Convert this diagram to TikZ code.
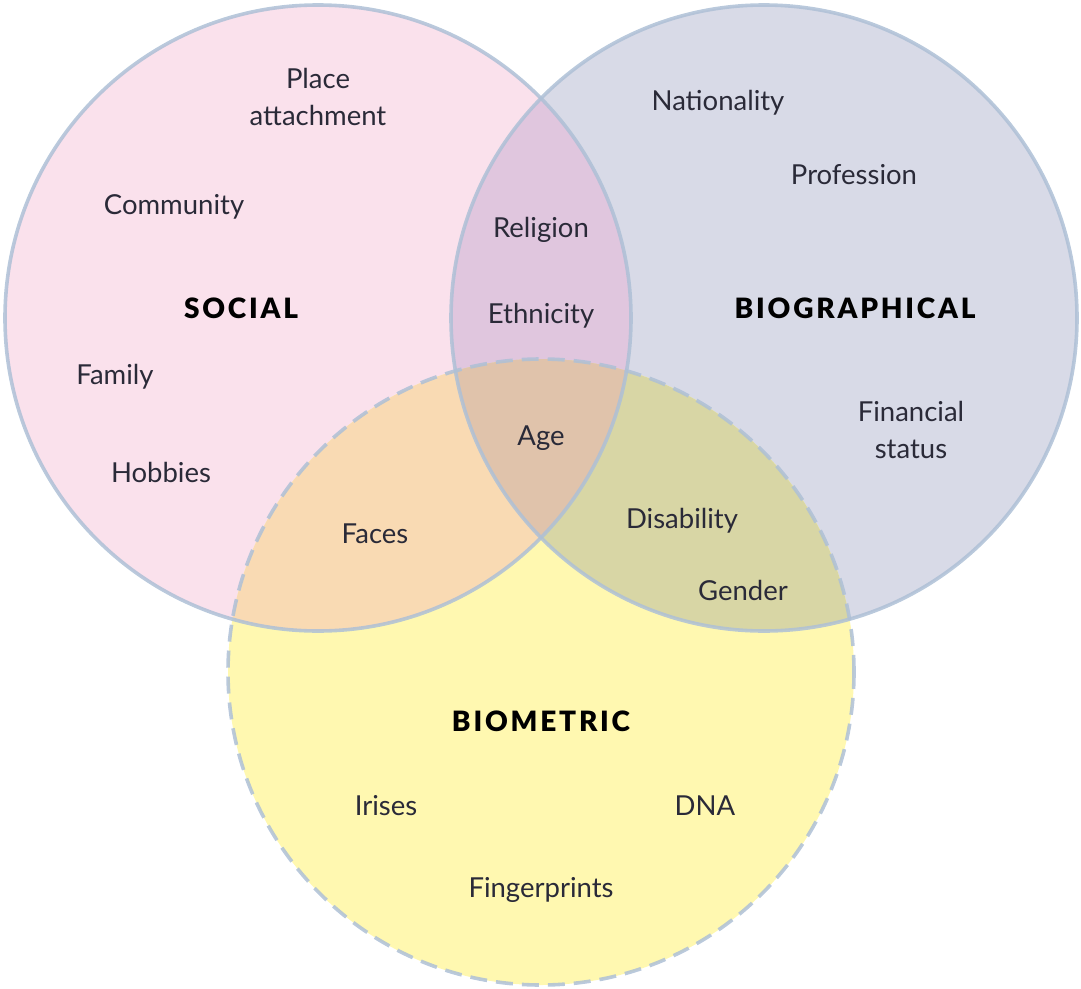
\documentclass[tikz,border=0pt]{standalone}
\usepackage{fontspec}
\setmainfont{Lato}
\newfontfamily\headfont[LetterSpace=10]{Lato Black}
\definecolor{cS}{HTML}{FAE1EC}
\definecolor{cB}{HTML}{D8DAE7}
\definecolor{cM}{HTML}{FFF8B0}
\definecolor{cSB}{HTML}{E0C6DE}
\definecolor{cSM}{HTML}{F9DAB3}
\definecolor{cBM}{HTML}{D8D6A5}
\definecolor{cSBM}{HTML}{E0C3AB}
\definecolor{edge}{HTML}{AEC0D6}
\definecolor{txt}{HTML}{2A2A38}
\tikzset{
  lab/.style={font=\fontsize{27.5}{37}\selectfont, text=txt, align=center, inner sep=0pt},
  head/.style={font=\headfont\fontsize{28}{32}\selectfont, text=black, inner sep=0pt},
  ring/.style={draw=edge, line width=3.6pt, draw opacity=0.85},
}
\begin{document}
\begin{tikzpicture}[x=1pt,y=-1pt]
\useasboundingbox (0,0) rectangle (1081,988);
\coordinate (S) at (318,318);
\coordinate (B) at (764,318);
\coordinate (M) at (541,672);
\def\R{313pt}
% single fills
\fill[cS] (S) circle[radius=\R];
\fill[cB] (B) circle[radius=\R];
\fill[cM] (M) circle[radius=\R];
% pairwise
\begin{scope}
  \clip (S) circle[radius=\R];
  \fill[cSB] (B) circle[radius=\R];
  \fill[cSM] (M) circle[radius=\R];
\end{scope}
\begin{scope}
  \clip (B) circle[radius=\R];
  \fill[cBM] (M) circle[radius=\R];
\end{scope}
\begin{scope}
  \clip (S) circle[radius=\R];
  \clip (B) circle[radius=\R];
  \fill[cSBM] (M) circle[radius=\R];
\end{scope}
% outlines
\draw[ring, dash pattern=on 17pt off 9pt] (M) circle[radius=\R];
\draw[ring] (S) circle[radius=\R];
\draw[ring] (B) circle[radius=\R];
% labels
\node[head] (social) at (241,308) {SOCIAL};
\node[head] (bio) at (855,308) {BIOGRAPHICAL};
\node[head] (biom) at (541,721) {BIOMETRIC};
\node[lab] (place) at (318,97) {Place\\attachment};
\node[lab] (community) at (174,207) {Community};
\node[lab] (family) at (115,377) {Family};
\node[lab] (hobbies) at (161,472) {Hobbies};
\node[lab] (faces) at (375,534) {Faces};
\node[lab] (religion) at (541,230) {Religion};
\node[lab] (ethnicity) at (541,316) {Ethnicity};
\node[lab] (age) at (541,438) {Age};
\node[lab] (nationality) at (718,103) {Nationality};
\node[lab] (profession) at (854,175) {Profession};
\node[lab] (financial) at (911,430) {Financial\\status};
\node[lab] (disability) at (682,521) {Disability};
\node[lab] (gender) at (743,590) {Gender};
\node[lab] (irises) at (386,806) {Irises};
\node[lab] (dna) at (705,806) {DNA};
\node[lab] (finger) at (541,890) {Fingerprints};
\end{tikzpicture}
\end{document}
